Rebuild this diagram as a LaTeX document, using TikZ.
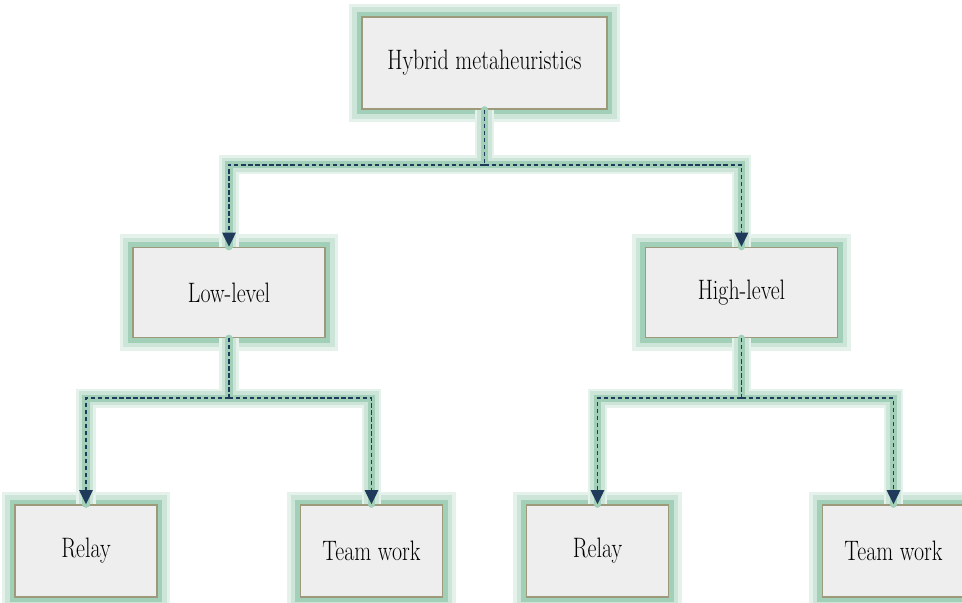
\documentclass[tikz,border=0pt]{standalone}
\usepackage{graphicx}
\usetikzlibrary{positioning,arrows.meta}
\definecolor{boxfill}{HTML}{EEEEEE}
\definecolor{boxline}{HTML}{9C9A7A}
\definecolor{glowgreen}{HTML}{6FB592}
\definecolor{linknavy}{HTML}{1F3A5A}
\newcommand{\narrowtext}[1]{\scalebox{0.78}[1]{#1}}
\tikzset{
  box/.style={draw=boxline, fill=boxfill, line width=0.8pt, rectangle,
    preaction={draw=glowgreen!18!white, line width=15pt},
    preaction={draw=glowgreen!35!white, line width=11pt},
    preaction={draw=glowgreen!65!white, line width=6pt},
    font=\fontsize{16}{18}\selectfont},
  glow/.style={line cap=round, preaction={draw=glowgreen!18!white, line width=11pt}, preaction={draw=glowgreen!35!white, line width=8pt}, draw=glowgreen!65!white, line width=4pt},
  link/.style={draw=linknavy, line width=1.1pt, dash pattern=on 2.4pt off 1.6pt, -{Triangle[width=7.5pt,length=8pt]}}
}
\begin{document}
\begin{tikzpicture}
\useasboundingbox (-9.69,1.26) rectangle (9.55,-10.8);
\node (hybrid) [box, minimum width=4.9cm, minimum height=1.84cm] {\narrowtext{Hybrid metaheuristics}};
\node (low) [box, minimum width=3.84cm, minimum height=1.8cm, below of=hybrid, node distance=4.59cm, xshift=-5.11cm] {\narrowtext{Low-level}};
\node (high) [box, minimum width=3.84cm, minimum height=1.8cm, below of=hybrid, node distance=4.59cm, xshift=5.14cm] {\narrowtext{High-level}};

\node (lowrelay) [box, minimum width=2.84cm, minimum height=1.84cm, below of=low, node distance=5.17cm, xshift=-2.86cm] {\narrowtext{Relay}};
\node (lowteam) [box, minimum width=2.84cm, minimum height=1.84cm, below of=low, node distance=5.17cm, xshift=2.85cm] {\narrowtext{Team work}};
\node (highrelay) [box, minimum width=2.84cm, minimum height=1.84cm, below of=high, node distance=5.17cm, xshift=-2.88cm] {\narrowtext{Relay}};
\node (highteam) [box, minimum width=2.84cm, minimum height=1.84cm, below of=high, node distance=5.17cm, xshift=3.04cm] {\narrowtext{Team work}};

% junctions under each parent
\foreach \parent/\drop in {hybrid/1.1, low/1.2, high/1.2}
  \path (\parent.south) -- ++(0,-\drop) coordinate (\parent-join);

\foreach \parent/\left/\right in {hybrid/low/high, low/lowrelay/lowteam, high/highrelay/highteam}
  \draw [glow] (\parent.south) -- (\parent-join) -| (\left.north) (\parent-join) -| (\right.north);

\foreach \parent in {hybrid, low, high}
  \draw [link, -] (\parent.south) -- (\parent-join);
\foreach \parent/\kid in {hybrid/low, hybrid/high, low/lowrelay, low/lowteam, high/highrelay, high/highteam}
  \draw [link] (\parent-join) -| (\kid.north);
\end{tikzpicture}
\end{document}
